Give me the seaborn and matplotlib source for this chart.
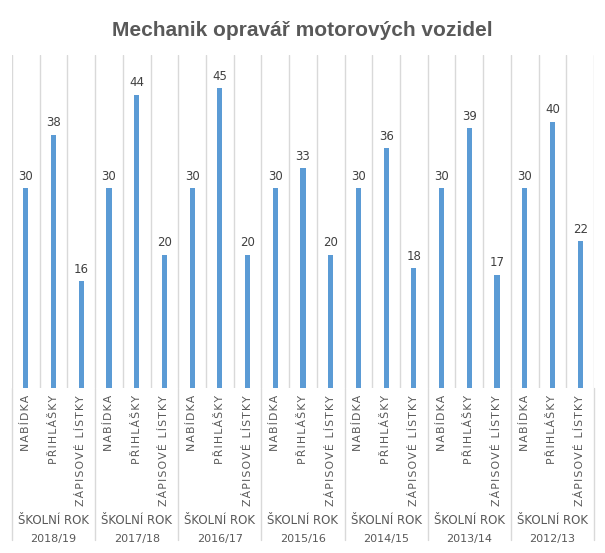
import matplotlib
matplotlib.use("Agg")
import matplotlib.pyplot as plt
import matplotlib.transforms as mtransforms
import seaborn as sns
import pandas as pd

years = ["2018/19", "2017/18", "2016/17", "2015/16", "2014/15", "2013/14", "2012/13"]
categories = ["NABÍDKA", "PŘIHLÁŠKY", "ZÁPISOVÉ LÍSTKY"]
nabidka = [30, 30, 30, 30, 30, 30, 30]
prihlasky = [38, 44, 45, 33, 36, 39, 40]
zapisove = [16, 20, 20, 20, 18, 17, 22]
title = "Mechanik opravář motorových vozidel"
group_prefix = "ŠKOLNÍ ROK"


def spaced(s, sep="\u200a"):
    return sep.join(s)


rows = []
for i, y in enumerate(years):
    for c, vals in zip(categories, [nabidka, prihlasky, zapisove]):
        rows.append({"key": f"{y}|{c}", "year": y, "cat": c, "value": vals[i]})
df = pd.DataFrame(rows)

sns.set_theme(style="white")
plt.rcParams['font.family'] = ['DejaVu Sans']

W, H = 605, 553
fig = plt.figure(figsize=(W / 100, H / 100), dpi=100)
left, right, top, bottom = 12, 594, 55, 388
ax = fig.add_axes([left / W, 1 - bottom / H, (right - left) / W, (bottom - top) / H])

sns.barplot(data=df, x="key", y="value", order=list(df["key"]), color="#5B9BD5",
            saturation=1, width=0.19, linewidth=0, ax=ax, zorder=3)

n = len(df)
ax.set_xlim(-0.5, n - 0.5)
ax.set_ylim(0, 50)
ax.set_yticks([])
ax.set_xlabel("")
ax.set_ylabel("")
for s in ax.spines.values():
    s.set_visible(False)

grid_c = "#D9D9D9"
for i in range(n + 1):
    ax.axvline(i - 0.5, color=grid_c, lw=1, zorder=1)

ax.set_xticks(range(n))
ax.set_xticklabels([spaced(c) for c in df["cat"]], rotation=90, fontsize=7.8,
                   color="#595959")
ax.tick_params(axis="x", length=0, pad=5)

for p, v in zip(ax.patches, df["value"]):
    ax.annotate(str(v), (p.get_x() + p.get_width() / 2, p.get_height()),
                xytext=(0, 4), textcoords="offset points", ha="center", va="bottom",
                fontsize=8.5, color="#404040")

trans = mtransforms.blended_transform_factory(ax.transData, ax.transAxes)
ylow = -(540 - bottom) / (bottom - top)
for g in range(len(years) + 1):
    x = g * 3 - 0.5
    ax.plot([x, x], [0, ylow], transform=trans, color=grid_c, lw=1, clip_on=False)
for g, y in enumerate(years):
    xc = g * 3 + 1
    ax.text(xc, -(521 - bottom) / (bottom - top), group_prefix, transform=trans,
            ha="center", va="center", fontsize=8.5, color="#595959")
    ax.text(xc, -(539 - bottom) / (bottom - top), y, transform=trans,
            ha="center", va="center", fontsize=8, color="#595959")

fig.text(0.5, 1 - 31 / H, title, ha="center", va="center", fontsize=15,
         fontweight="bold", color="#595959", family="Liberation Sans")

fig.savefig("out.png", dpi=100, facecolor="white")
